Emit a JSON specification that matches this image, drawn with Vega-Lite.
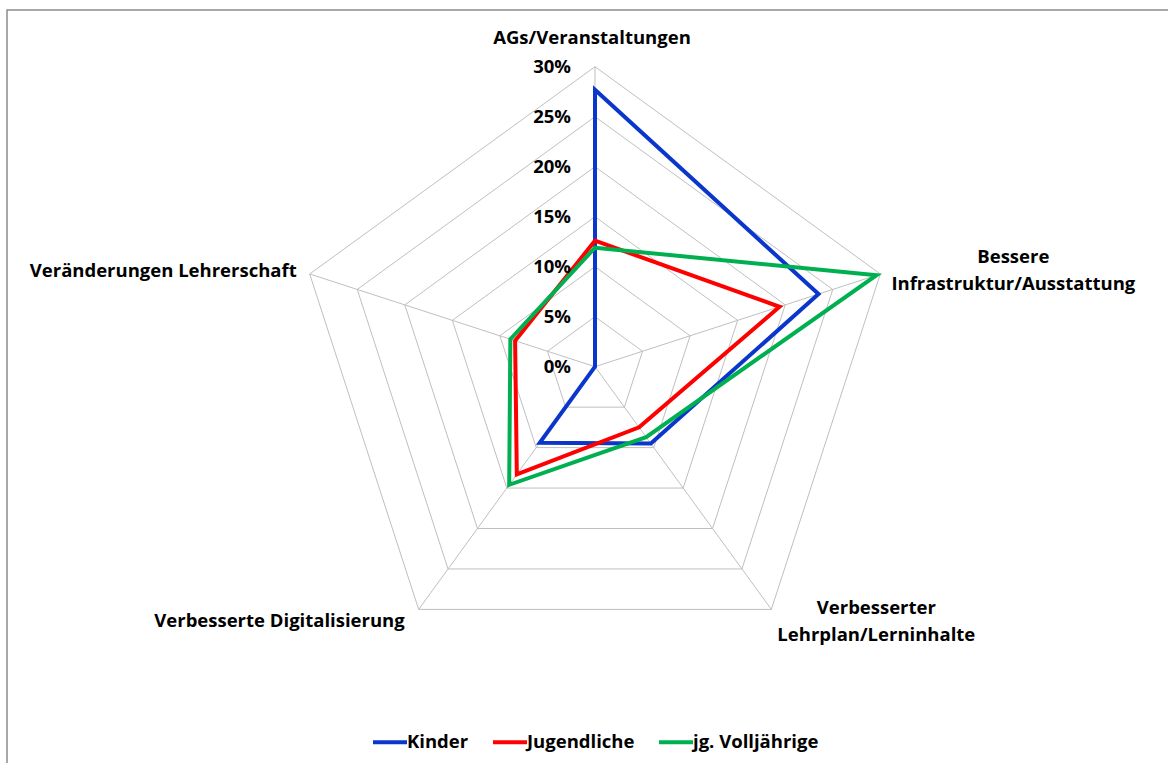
{
  "$schema": "https://vega.github.io/schema/vega-lite/v6.json",
  "width": 1165,
  "height": 757,
  "autosize": {"type": "none"},
  "padding": {"left": 7, "top": 10, "right": 0, "bottom": 0},
  "background": "white",
  "config": {
    "view": {"stroke": "#8c8c8c", "strokeWidth": 1.5},
    "font": "Open Sans",
    "text": {"font": "Open Sans", "fontWeight": "bold", "fontSize": 18.5, "color": "#000000"}
  },
  "datasets": {
    "levels": [
      {"level": 0, "lab": "0%", "k": [0, 1, 2, 3, 4]},
      {"level": 5, "lab": "5%", "k": [0, 1, 2, 3, 4]},
      {"level": 10, "lab": "10%", "k": [0, 1, 2, 3, 4]},
      {"level": 15, "lab": "15%", "k": [0, 1, 2, 3, 4]},
      {"level": 20, "lab": "20%", "k": [0, 1, 2, 3, 4]},
      {"level": 25, "lab": "25%", "k": [0, 1, 2, 3, 4]},
      {"level": 30, "lab": "30%", "k": [0, 1, 2, 3, 4]}
    ],
    "axes": [
      {"axis": 0, "label": ["AGs/Veranstaltungen"]},
      {"axis": 1, "label": ["Bessere", "Infrastruktur/Ausstattung"]},
      {"axis": 2, "label": ["Verbesserter", "Lehrplan/Lerninhalte"]},
      {"axis": 3, "label": ["Verbesserte Digitalisierung"]},
      {"axis": 4, "label": ["Veränderungen Lehrerschaft"]}
    ],
    "series": [
      {"series": "Kinder", "axis": 0, "value": 27.7},
      {"series": "Kinder", "axis": 1, "value": 23.5},
      {"series": "Kinder", "axis": 2, "value": 9.5},
      {"series": "Kinder", "axis": 3, "value": 9.4},
      {"series": "Kinder", "axis": 4, "value": 0},
      {"series": "Jugendliche", "axis": 0, "value": 12.6},
      {"series": "Jugendliche", "axis": 1, "value": 19.4},
      {"series": "Jugendliche", "axis": 2, "value": 7.5},
      {"series": "Jugendliche", "axis": 3, "value": 13.3},
      {"series": "Jugendliche", "axis": 4, "value": 8.4},
      {"series": "jg. Volljährige", "axis": 0, "value": 11.9},
      {"series": "jg. Volljährige", "axis": 1, "value": 29.6},
      {"series": "jg. Volljährige", "axis": 2, "value": 8.7},
      {"series": "jg. Volljährige", "axis": 3, "value": 14.6},
      {"series": "jg. Volljährige", "axis": 4, "value": 8.9}
    ]
  },
  "encoding": {
    "x": {"field": "px", "type": "quantitative", "axis": null, "scale": {"domain": [-58.8, 57.7], "nice": false, "zero": false}},
    "y": {"field": "py", "type": "quantitative", "axis": null, "scale": {"domain": [-40.03, 35.67], "nice": false, "zero": false}}
  },
  "layer": [
    {
      "data": {"name": "levels"},
      "transform": [
        {"filter": "datum.level > 0"},
        {"flatten": ["k"], "as": ["axis"]},
        {"calculate": "datum.level * sin(datum.axis * 2 * PI / 5)", "as": "px"},
        {"calculate": "datum.level * cos(datum.axis * 2 * PI / 5)", "as": "py"}
      ],
      "mark": {"type": "line", "interpolate": "linear-closed", "stroke": "#BFBFBF", "strokeWidth": 1},
      "encoding": {
        "detail": {"field": "level", "type": "nominal"},
        "order": {"field": "axis", "type": "quantitative"}
      }
    },
    {
      "data": {"name": "axes"},
      "transform": [
        {"calculate": "0", "as": "px"},
        {"calculate": "0", "as": "py"},
        {"calculate": "30 * sin(datum.axis * 2 * PI / 5)", "as": "vx"},
        {"calculate": "30 * cos(datum.axis * 2 * PI / 5)", "as": "vy"}
      ],
      "mark": {"type": "rule", "stroke": "#BFBFBF", "strokeWidth": 1},
      "encoding": {
        "x2": {"field": "vx"},
        "y2": {"field": "vy"}
      }
    },
    {
      "data": {"name": "series"},
      "transform": [
        {"calculate": "datum.value * sin(datum.axis * 2 * PI / 5)", "as": "px"},
        {"calculate": "datum.value * cos(datum.axis * 2 * PI / 5)", "as": "py"}
      ],
      "mark": {"type": "line", "interpolate": "linear-closed", "strokeWidth": 4},
      "encoding": {
        "color": {
          "field": "series",
          "type": "nominal",
          "scale": {"domain": ["Kinder", "Jugendliche", "jg. Volljährige"], "range": ["#0B36CC", "#FF0000", "#00B050"]},
          "legend": {
            "orient": "none",
            "legendX": 364,
            "legendY": 713,
            "direction": "horizontal",
            "title": null,
            "symbolType": "stroke",
            "symbolSize": 1156,
            "symbolStrokeWidth": 4,
            "labelFont": "Open Sans",
            "labelFontSize": 18.5,
            "labelFontWeight": "bold",
            "labelColor": "#000000",
            "labelOffset": -2,
            "columnPadding": 16,
            "padding": 0
          }
        },
        "order": {"field": "axis", "type": "quantitative"}
      }
    },
    {
      "data": {"name": "levels"},
      "transform": [
        {"calculate": "0", "as": "px"},
        {"calculate": "datum.level", "as": "py"}
      ],
      "mark": {"type": "text", "align": "right", "baseline": "middle", "dx": -24},
      "encoding": {
        "text": {"field": "lab", "type": "nominal"}
      }
    },
    {
      "data": {"name": "axes"},
      "transform": [
        {"filter": "datum.axis == 0"},
        {"calculate": "30 * sin(datum.axis * 2 * PI / 5)", "as": "px"},
        {"calculate": "30 * cos(datum.axis * 2 * PI / 5)", "as": "py"}
      ],
      "mark": {"type": "text", "align": "center", "baseline": "middle", "dx": -3, "dy": -29},
      "encoding": {"text": {"field": "label"}}
    },
    {
      "data": {"name": "axes"},
      "transform": [
        {"filter": "datum.axis == 1"},
        {"calculate": "30 * sin(datum.axis * 2 * PI / 5)", "as": "px"},
        {"calculate": "30 * cos(datum.axis * 2 * PI / 5)", "as": "py"}
      ],
      "mark": {"type": "text", "align": "center", "baseline": "middle", "dx": 133, "dy": -16.5, "lineHeight": 26.7},
      "encoding": {"text": {"field": "label"}}
    },
    {
      "data": {"name": "axes"},
      "transform": [
        {"filter": "datum.axis == 2"},
        {"calculate": "30 * sin(datum.axis * 2 * PI / 5)", "as": "px"},
        {"calculate": "30 * cos(datum.axis * 2 * PI / 5)", "as": "py"}
      ],
      "mark": {"type": "text", "align": "center", "baseline": "middle", "dx": 105, "dy": -1.5, "lineHeight": 26.7},
      "encoding": {"text": {"field": "label"}}
    },
    {
      "data": {"name": "axes"},
      "transform": [
        {"filter": "datum.axis == 3"},
        {"calculate": "30 * sin(datum.axis * 2 * PI / 5)", "as": "px"},
        {"calculate": "30 * cos(datum.axis * 2 * PI / 5)", "as": "py"}
      ],
      "mark": {"type": "text", "align": "right", "baseline": "middle", "dx": -14, "dy": 12},
      "encoding": {"text": {"field": "label"}}
    },
    {
      "data": {"name": "axes"},
      "transform": [
        {"filter": "datum.axis == 4"},
        {"calculate": "30 * sin(datum.axis * 2 * PI / 5)", "as": "px"},
        {"calculate": "30 * cos(datum.axis * 2 * PI / 5)", "as": "py"}
      ],
      "mark": {"type": "text", "align": "right", "baseline": "middle", "dx": -13, "dy": -3},
      "encoding": {"text": {"field": "label"}}
    }
  ]
}
